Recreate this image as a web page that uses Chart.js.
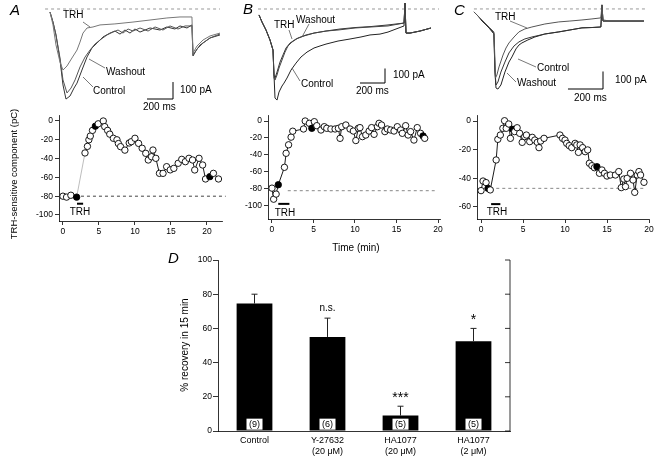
<!DOCTYPE html>
<html><head><meta charset="utf-8">
<script src="https://cdn.jsdelivr.net/npm/chart.js@4.4.1/dist/chart.umd.min.js"></script>
<style>
html,body{margin:0;padding:0;background:#fff;}
#wrap{position:relative;width:663px;height:463px;overflow:hidden;background:#fff;}
#wrap canvas{position:absolute;left:0;top:0;}
</style></head><body><div id="wrap">
<canvas id="tA" width="663" height="463"></canvas>
<canvas id="tB" width="663" height="463"></canvas>
<canvas id="tC" width="663" height="463"></canvas>
<canvas id="mA" width="663" height="463"></canvas>
<canvas id="mB" width="663" height="463"></canvas>
<canvas id="mC" width="663" height="463"></canvas>
<canvas id="bD" width="663" height="463"></canvas>
</div>
<script>
// ---------- Top current traces (time in ms, current in pA) ----------
const trA_TRH_t = [0,23,46,77,100,131,169,208,231,254,285,331,385,500,639,770,900,1001,1093,1101,1132,1178,1232,1309];
const trA_TRH_i = [-18,-94,-212,-313,-360,-336,-289,-242,-195,-142,-112,-106,-94,-88,-77,-65,-53,-47,-47,-260,-218,-183,-159,-142];
const trA_Ctl_t = [0,23,46,77,100,123,154,185,208,246,285,323,362,408,462,500,539,577,616,654,693,770,847,900,962,1001,1055,1093,1101,1132,1178,1232,1309];
const trA_Ctl_i = [-18,-77,-153,-301,-448,-531,-513,-466,-437,-360,-283,-230,-201,-165,-142,-130,-148,-124,-142,-118,-136,-112,-124,-106,-118,-100,-112,-94,-277,-236,-201,-171,-153];
const trA_Wsh_t = [0,23,46,77,100,131,162,193,231,270,308,347,385,439,485,524,562,601,639,693,755,809,870,924,986,1040,1093,1101,1155,1232,1309];
const trA_Wsh_i = [-18,-77,-153,-289,-418,-495,-466,-418,-342,-283,-242,-206,-183,-153,-136,-124,-142,-118,-130,-112,-130,-106,-124,-100,-118,-100,-100,-271,-212,-171,-147];

const trB_Ctl_t = [0,24,56,88,112,120,128,144,160,184,200,224,256,296,336,384,440,488,536,632,728,816,888,968,1032,1096,1160,1168,1176,1208,1288,1376];
const trB_Ctl_i = [-41,-90,-145,-214,-283,-455,-614,-628,-573,-531,-511,-476,-421,-373,-331,-297,-269,-255,-242,-221,-207,-193,-179,-173,-159,-138,-117,41,-166,-166,-152,-131];
const trB_TRH_t = [0,24,56,88,112,120,128,144,160,184,208,232,264,312,376,440,536,632,768,896,1032,1160,1168,1176,1208,1288,1376];
const trB_TRH_i = [-41,-90,-145,-214,-283,-476,-490,-455,-407,-352,-297,-255,-228,-200,-179,-166,-152,-145,-131,-124,-117,-97,41,-166,-166,-152,-131];
const trB_Wsh_t = [0,24,56,88,112,120,128,144,168,192,216,248,296,360,440,536,648,768,896,1032,1160,1168,1176,1208,1288,1376];
const trB_Wsh_i = [-41,-90,-145,-214,-283,-455,-476,-435,-366,-317,-269,-235,-207,-186,-166,-152,-138,-128,-121,-110,-97,41,-166,-166,-152,-131];

const trC_TRH_t = [0,23,46,69,91,114,120,123,131,143,166,183,200,229,257,291,331,405,485,548,617,674,725,731,737,777,834,891,971];
const trC_TRH_i = [-17,-40,-63,-86,-108,-131,-291,-394,-377,-331,-263,-223,-194,-160,-131,-114,-103,-86,-74,-69,-63,-57,-51,23,-63,-69,-69,-69,-69];
const trC_Ctl_t = [0,23,46,69,91,114,120,126,137,154,177,200,229,257,291,331,405,485,548,617,674,725,731,737,971];
const trC_Ctl_i = [-17,-40,-63,-86,-114,-137,-348,-434,-417,-360,-303,-251,-211,-188,-171,-160,-143,-131,-120,-108,-106,-103,23,-69,-69];
const trC_Wsh_t = [0,23,46,69,91,114,120,126,137,154,177,200,217,240,257,274,308,348,405,485,548,617,674,725,731,737,971];
const trC_Wsh_i = [-17,-40,-69,-91,-114,-143,-360,-451,-457,-434,-360,-303,-274,-228,-206,-194,-177,-160,-143,-131,-120,-108,-106,-103,23,-69,-69];

const scaleBarMs = 200, scaleBarPA = 100;

// ---------- Time courses (time in min, TRH-sensitive charge in pC) ----------
const timeA = [0,0.5,1.1,1.9,3.06,3.4,3.6,3.8,4.1,4.5,4.9,5.6,5.8,6.2,6.5,7.0,7.5,7.7,8.0,8.6,9.2,9.5,10.0,10.5,11.0,11.5,11.85,12.3,12.5,12.9,13.4,13.9,14.4,14.9,15.4,16.0,16.5,17.0,17.5,18.0,18.3,18.9,19.4,19.8,20.4,20.9,21.6];
const chargeA = [-80,-81,-79,-81,-34,-27,-20,-16,-10,-5.5,-3,0,-6,-10,-14,-18.4,-20,-24,-27.3,-31,-23.4,-22,-18.4,-23.8,-29,-34.4,-41.5,-38,-30.9,-39.7,-55.7,-55.7,-48.6,-52,-50.4,-45,-40.8,-43.3,-39.7,-41.5,-52.1,-39.7,-46.8,-61.7,-59.2,-55.7,-61.7];
const filledA = [1.9,4.5,20.4];
const timeB = [0,0.2,0.5,0.76,1.5,1.7,2.0,2.3,2.5,3.8,4.0,4.5,4.8,5.1,5.4,5.9,6.3,6.6,7.1,7.6,8.0,8.2,8.4,8.9,9.4,9.8,10.1,10.4,10.6,10.9,11.3,11.7,12.0,12.3,12.7,12.9,13.2,13.6,13.9,14.3,14.7,15.1,15.5,15.7,16.1,16.4,16.7,17.1,17.5,17.9,18.2,18.4];
const chargeB = [-79,-92,-86,-75,-54.5,-38,-28,-19,-12,-9.4,0,-2.7,-8.6,-0.8,-5.5,-10.6,-6.7,-8.6,-9.4,-9.4,-8.6,-20.4,-6.7,-4.7,-9.4,-11.8,-23,-8.6,-7.8,-18.4,-16.5,-11.8,-7.8,-15.7,-6.7,-2.7,-4.7,-12.5,-9.4,-10.6,-11.8,-6.7,-10.6,-14.5,-5.5,-16.5,-12.5,-22.4,-7.8,-14.5,-17.6,-20.4];
const filledB = [0.76,4.8,18.2];
const timeC = [0,0.24,0.6,0.83,1.1,1.8,2.0,2.3,2.6,2.8,3.0,3.3,3.5,3.8,4.0,4.3,4.6,4.9,5.2,5.4,5.8,6.1,6.4,6.7,6.9,7.1,7.5,9.4,9.7,10.0,10.2,10.5,10.8,11.2,11.4,11.6,11.8,12.1,12.4,12.7,12.9,13.2,13.5,13.8,14.1,14.4,14.7,15.0,15.4,16.0,16.4,16.7,17.0,17.2,17.4,17.8,18.1,18.3,18.6,18.8,19.0,19.4];
const chargeC = [-48.6,-41.9,-43,-47,-48.1,-27.2,-12.8,-9.8,-5.1,0.2,-5.1,-2.1,-12.1,-5.8,-7.4,-4.7,-8.6,-14.9,-10.9,-9.8,-14.4,-11.4,-13.3,-14.9,-18.6,-14,-12.1,-9.8,-12.1,-13.3,-15.6,-17.2,-18.6,-15.6,-16.7,-21.9,-16.7,-18.6,-21.4,-20.2,-29.5,-31.2,-32.6,-31.9,-36.5,-34.2,-36.5,-38.4,-37.7,-37.7,-35.3,-46.5,-40.5,-45.8,-40,-36.5,-41.2,-49.8,-37.7,-35.3,-37.7,-42.8];
const filledC = [0.83,3.8,13.8];
const controlLevelA = -80, controlLevelB = -82, controlLevelC = -47;
const trhPeriodA = [1.95,2.8], trhPeriodB = [0.76,2.1], trhPeriodC = [1.2,2.3];
const xTicksMid = [0,5,10,15,20];
const yTicksA = [0,-20,-40,-60,-80,-100];
const yTicksB = [0,-20,-40,-60,-80,-100];
const yTicksC = [0,-20,-40,-60];

// ---------- Bar chart D ----------
const categoriesD = [['Control'],['Y-27632','(20 \u03bcM)'],['HA1077','(20 \u03bcM)'],['HA1077','(2 \u03bcM)']];
const recoveryD = [74.5,55,9,52.5];
const semD = [5.5,11,5.5,7.5];
const sigD = ['','n.s.','***','*'];
const nD = ['(9)','(6)','(5)','(5)'];
const yTicksD = [0,20,40,60,80,100];

// ---------- common ----------
const FF = '"Liberation Sans", Arial, Helvetica, sans-serif';
Chart.defaults.font.family = FF;
Chart.defaults.color = '#000';
Chart.defaults.animation = false;
Chart.defaults.events = [];
Chart.defaults.plugins.legend.display = false;
Chart.defaults.plugins.tooltip.enabled = false;

function notes(cfg){
  return {id:'notes', afterDraw(chart){
    const c = chart.ctx; c.save();
    (cfg.lines||[]).forEach(l=>{c.strokeStyle='#555';c.lineWidth=0.8;c.beginPath();c.moveTo(l[0],l[1]);c.lineTo(l[2],l[3]);c.stroke();});
    (cfg.texts||[]).forEach(t=>{
      c.font = t.f || ('10px '+FF); c.fillStyle='#000'; c.textBaseline='middle';
      if(t.rot){c.save();c.translate(t.x,t.y);c.rotate(-Math.PI/2);c.textAlign='center';c.fillText(t.s,0,0);c.restore();}
      else {c.textAlign=t.a||'left'; c.fillText(t.s,t.x,t.y);}
    });
    if(cfg.bar){
      const xs=chart.scales.x, ys=chart.scales.y;
      const w = xs.getPixelForValue(scaleBarMs)-xs.getPixelForValue(0);
      const h = ys.getPixelForValue(0)-ys.getPixelForValue(scaleBarPA);
      c.strokeStyle='#000'; c.lineWidth=1; c.beginPath();
      c.moveTo(cfg.bar.x, cfg.bar.y-h); c.lineTo(cfg.bar.x, cfg.bar.y); c.lineTo(cfg.bar.x-w, cfg.bar.y); c.stroke();
    }
    c.restore();
  }};
}
const pts = (t,v)=>t.map((x,i)=>({x:x,y:v[i]}));

function topChart(id, traces, base, area, xr, yr, cfg){
  const ds = traces.map(tr=>({data:pts(tr[0],tr[1]), showLine:true, borderColor:tr[2], borderWidth:1, pointRadius:0, clip:false}));
  ds.push({data:[{x:base[0],y:0},{x:base[1],y:0}], showLine:true, borderColor:'#999', borderWidth:1, borderDash:[3,3], pointRadius:0, clip:false});
  new Chart(document.getElementById(id), {
    type:'scatter', data:{datasets:ds},
    options:{responsive:false, layout:{padding:{left:area[0],top:area[1],right:663-area[2],bottom:463-area[3]}},
      scales:{x:{type:'linear',display:false,min:xr[0],max:xr[1]}, y:{type:'linear',display:false,min:yr[0],max:yr[1]}}},
    plugins:[notes(cfg)]
  });
}
function axisOpts(min,max,ticks,fit){
  return {type:'linear', min:min, max:max,
    afterBuildTicks:s=>{s.ticks = ticks.map(v=>({value:v}));},
    afterFit:fit,
    grid:{display:true, drawOnChartArea:false, drawTicks:true, tickLength:4, color:'#000', lineWidth:0.8},
    border:{display:true, color:'#000', width:0.8},
    ticks:{color:'#000', font:{size:8.5}, padding:2, maxRotation:0, autoSkip:false, callback:v=>String(v)}};
}
function midChart(id, o){
  new Chart(document.getElementById(id), {
    type:'scatter',
    data:{datasets:[
      {data:pts(o.t,o.v), showLine:true, borderColor:'#000', borderWidth:0.9, pointRadius:3.2, pointBorderWidth:0.9,
       pointBorderColor:'#000', pointBackgroundColor:o.t.map(t=>o.filled.includes(t)?'#000':'#fff'),
       segment:{borderColor:c=>(o.t[c.p0DataIndex] < o.trh[1] && o.t[c.p1DataIndex] > o.trh[1]) ? '#b5b5b5' : '#000'}, clip:false},
      {data:[{x:o.trh[0],y:o.trhY},{x:o.trh[1],y:o.trhY}], showLine:true, borderColor:'#000', borderWidth:2, pointRadius:0, clip:false},
      {data:[{x:o.base[0],y:o.baseY},{x:o.base[1],y:o.baseY}], showLine:true, borderColor:o.baseColor, borderWidth:1, borderDash:[3,3], pointRadius:0, clip:false}
    ]},
    options:{responsive:false,
      layout:{padding:{left:o.area[0]-40, top:o.area[1], right:663-o.area[2], bottom:463-o.area[3]-20}},
      scales:{x:axisOpts(o.xr[0],o.xr[1],xTicksMid,s=>{s.height=20;}),
              y:axisOpts(o.yr[0],o.yr[1],o.yt,s=>{s.width=40;})}},
    plugins:[notes(o.notes)]
  });
}

// ---- top row ----
topChart('tA', [[trA_TRH_t,trA_TRH_i,'#777'],[trA_Wsh_t,trA_Wsh_i,'#555'],[trA_Ctl_t,trA_Ctl_i,'#333']],
  [-38,1309], [40,0,230,105], [-77,1386], [-566,53],
  {bar:{x:173,y:99}, lines:[[83,22,90,27],[105,68,89,59],[93,87,83,77]],
   texts:[{s:'A',x:10,y:11,f:'italic 15px '+FF},{s:'TRH',x:63,y:15},{s:'Washout',x:106,y:72},{s:'Control',x:93,y:91},{s:'100 pA',x:180,y:90},{s:'200 ms',x:143,y:107}]});
topChart('tB', [[trB_TRH_t,trB_TRH_i,'#444'],[trB_Wsh_t,trB_Wsh_i,'#333'],[trB_Ctl_t,trB_Ctl_i,'#222']],
  [-8,1440], [250,0,440,105], [-72,1448], [-662,62],
  {bar:{x:385,y:83}, lines:[[289,30,292,39],[309,24,302,37],[300,81,292,68]],
   texts:[{s:'B',x:243,y:10,f:'italic 15px '+FF},{s:'TRH',x:274,y:25},{s:'Washout',x:296,y:20},{s:'Control',x:301,y:84},{s:'100 pA',x:393,y:75},{s:'200 ms',x:356,y:91}]});
topChart('tC', [[trC_TRH_t,trC_TRH_i,'#555'],[trC_Ctl_t,trC_Ctl_i,'#333'],[trC_Wsh_t,trC_Wsh_i,'#222']],
  [0,977], [465,0,655,105], [-51,1034], [-548,51],
  {bar:{x:603,y:89}, lines:[[510,21,527,28],[536,67,518,59],[516,82,507,73]],
   texts:[{s:'C',x:454,y:11,f:'italic 15px '+FF},{s:'TRH',x:495,y:17},{s:'Control',x:537,y:68},{s:'Washout',x:517,y:83},{s:'100 pA',x:615,y:80},{s:'200 ms',x:574,y:98}]});

// ---- middle row ----
midChart('mA', {t:timeA, v:chargeA, filled:filledA, trh:trhPeriodA, trhY:-88, base:[0,22.6], baseY:controlLevelA, baseColor:'#444',
  area:[59,115,222,221], xr:[-0.55,22.09], yr:[-106.4,6.38], yt:yTicksA,
  notes:{texts:[{s:'TRH',x:80,y:212,a:'center'},{s:'TRH-sensitive component (pC)',x:14,y:174,rot:true,f:'9.5px '+FF}]}});
midChart('mB', {t:timeB, v:chargeB, filled:filledB, trh:trhPeriodB, trhY:-97.5, base:[1.9,19.6], baseY:controlLevelB, baseColor:'#888',
  area:[268,115,440,219], xr:[-0.48,20.24], yr:[-115.3,7.06], yt:yTicksB,
  notes:{texts:[{s:'TRH',x:285,y:213,a:'center'},{s:'Time (min)',x:356,y:248,a:'center'}]}});
midChart('mC', {t:timeC, v:chargeC, filled:filledC, trh:trhPeriodC, trhY:-58, base:[1.1,19.6], baseY:controlLevelC, baseColor:'#888',
  area:[477,115,649,219], xr:[-0.48,20.0], yr:[-68.4,4.19], yt:yTicksC,
  notes:{texts:[{s:'TRH',x:497,y:212,a:'center'}]}});

// ---- bar chart D ----
const barExtras = {id:'barExtras', afterDatasetsDraw(chart){
  const c=chart.ctx, ys=chart.scales.y, ca=chart.chartArea, meta=chart.getDatasetMeta(0);
  c.save();
  meta.data.forEach((b,i)=>{
    const top = ys.getPixelForValue(recoveryD[i]+semD[i]);
    c.strokeStyle='#222'; c.lineWidth=1; c.beginPath();
    c.moveTo(b.x,b.y); c.lineTo(b.x,top); c.moveTo(b.x-3,top); c.lineTo(b.x+3,top); c.stroke();
    const ny = ys.getPixelForValue(4);
    c.fillStyle='#fff'; c.fillRect(b.x-8, ny-5.5, 16, 11);
    c.fillStyle='#000'; c.font='9px '+FF; c.textAlign='center'; c.textBaseline='middle'; c.fillText(nD[i], b.x, ny);
    if(sigD[i]){
      c.textBaseline='alphabetic';
      if(sigD[i]==='n.s.'){c.font='10px '+FF; c.fillText(sigD[i], b.x, top-7);}
      else {c.font='14px '+FF; c.fillText(sigD[i], b.x, top-4);}
    }
  });
  c.strokeStyle='#000'; c.lineWidth=0.8; c.beginPath();
  c.moveTo(ca.right, ca.top); c.lineTo(ca.right, ca.bottom);
  yTicksD.forEach(v=>{const p=ys.getPixelForValue(v); c.moveTo(ca.right,p); c.lineTo(ca.right-5,p);});
  c.stroke(); c.restore();
}};
new Chart(document.getElementById('bD'), {
  type:'bar',
  data:{labels:categoriesD, datasets:[{data:recoveryD, backgroundColor:'#000', borderWidth:0, barPercentage:0.49, categoryPercentage:1}]},
  options:{responsive:false,
    layout:{padding:{left:178, top:260, right:153, bottom:2}},
    scales:{
      x:{grid:{display:false, drawTicks:false}, border:{display:true,color:'#000',width:0.8},
         ticks:{color:'#000', font:{size:9, lineHeight:1.2}, padding:4, maxRotation:0, autoSkip:false},
         afterFit:s=>{s.height=30;}},
      y:{min:0, max:100, afterBuildTicks:s=>{s.ticks=yTicksD.map(v=>({value:v}));},
         grid:{display:true, drawOnChartArea:false, drawTicks:true, tickLength:5, color:'#000', lineWidth:0.8},
         border:{display:true,color:'#000',width:0.8},
         ticks:{color:'#000', font:{size:8.5}, padding:1, callback:v=>String(v)},
         afterFit:s=>{s.width=40;}}
    }},
  plugins:[barExtras, notes({texts:[{s:'D',x:168,y:259,f:'italic 15px '+FF},{s:'% recovery in 15 min',x:185,y:345,rot:true,f:'10px '+FF}]})]
});
</script></body></html>
